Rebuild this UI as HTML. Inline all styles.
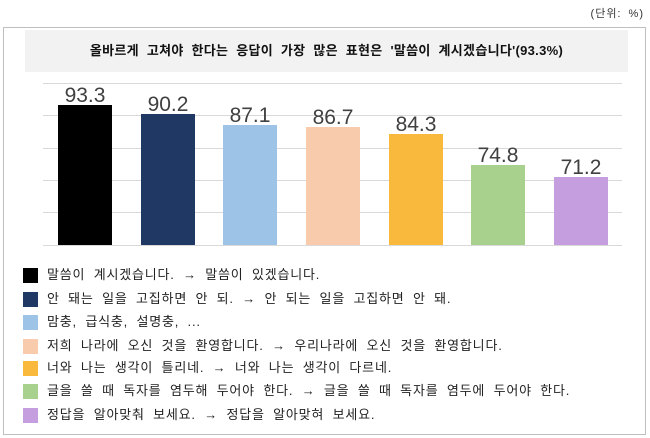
<!DOCTYPE html>
<html><head><meta charset="utf-8"><style>
body{margin:0;width:650px;height:438px;background:#fff;font-family:"Liberation Sans","Noto Sans CJK KR",sans-serif;position:relative;overflow:hidden}
.a{position:absolute;white-space:nowrap}
.unit{right:6px;top:5px;font-size:11px;color:#333;letter-spacing:1px;word-spacing:3px}
.frame{left:3px;top:27px;width:641px;height:406px;border:1px solid #bfbfbf}
.title{left:25px;top:30px;width:603px;height:42px;background:#f2f2f2;font-size:13px;font-weight:bold;line-height:42px;text-align:center;color:#111;word-spacing:4px;letter-spacing:0.3px}
.g{left:43px;width:579px;height:1px;background:#d9d9d9}
.bar{width:54px}
.lab{width:90px;text-align:center;font-size:21px;color:#404040}
.sw{left:23px;width:15px;height:15px}
.lt{left:47px;font-size:13px;color:#222;line-height:16px;letter-spacing:0.8px;word-spacing:4px}
</style></head><body>
<div class="a unit">(단위: %)</div>
<div class="a frame"></div>
<div class="a title">올바르게 고쳐야 한다는 응답이 가장 많은 표현은 '말씀이 계시겠습니다'(93.3%)</div>
<div class="a g" style="top:83px"></div>
<div class="a g" style="top:115px"></div>
<div class="a g" style="top:148px"></div>
<div class="a g" style="top:180px"></div>
<div class="a g" style="top:212px"></div>
<div class="a g" style="top:245px"></div>
<div class="a bar" style="left:58px;top:105px;height:140px;background:#000"></div>
<div class="a bar" style="left:141px;top:114px;height:131px;background:#1f3864"></div>
<div class="a bar" style="left:223px;top:125px;height:120px;background:#9dc3e6"></div>
<div class="a bar" style="left:306px;top:127px;height:118px;background:#f8cbad"></div>
<div class="a bar" style="left:389px;top:134px;height:111px;background:#f9b93d"></div>
<div class="a bar" style="left:471px;top:165px;height:80px;background:#a9d18e"></div>
<div class="a bar" style="left:554px;top:177px;height:68px;background:#c59ee0"></div>
<div class="a lab" style="left:40px;top:84px">93.3</div>
<div class="a lab" style="left:123px;top:93px">90.2</div>
<div class="a lab" style="left:205px;top:104px">87.1</div>
<div class="a lab" style="left:288px;top:106px">86.7</div>
<div class="a lab" style="left:371px;top:113px">84.3</div>
<div class="a lab" style="left:453px;top:144px">74.8</div>
<div class="a lab" style="left:536px;top:156px">71.2</div>
<div class="a sw" style="top:268px;background:#000"></div><div class="a lt" style="top:267px">말씀이 계시겠습니다. → 말씀이 있겠습니다.</div>
<div class="a sw" style="top:292px;background:#1f3864"></div><div class="a lt" style="top:291px">안 돼는 일을 고집하면 안 되. → 안 되는 일을 고집하면 안 돼.</div>
<div class="a sw" style="top:315px;background:#9dc3e6"></div><div class="a lt" style="top:314px">맘충, 급식충, 설명충, ...</div>
<div class="a sw" style="top:339px;background:#f8cbad"></div><div class="a lt" style="top:338px">저희 나라에 오신 것을 환영합니다. → 우리나라에 오신 것을 환영합니다.</div>
<div class="a sw" style="top:361px;background:#f9b93d"></div><div class="a lt" style="top:360px">너와 나는 생각이 틀리네. → 너와 나는 생각이 다르네.</div>
<div class="a sw" style="top:384px;background:#a9d18e"></div><div class="a lt" style="top:383px">글을 쓸 때 독자를 염두해 두어야 한다. → 글을 쓸 때 독자를 염두에 두어야 한다.</div>
<div class="a sw" style="top:408px;background:#c59ee0"></div><div class="a lt" style="top:407px">정답을 알아맞춰 보세요. → 정답을 알아맞혀 보세요.</div>
</body></html>
